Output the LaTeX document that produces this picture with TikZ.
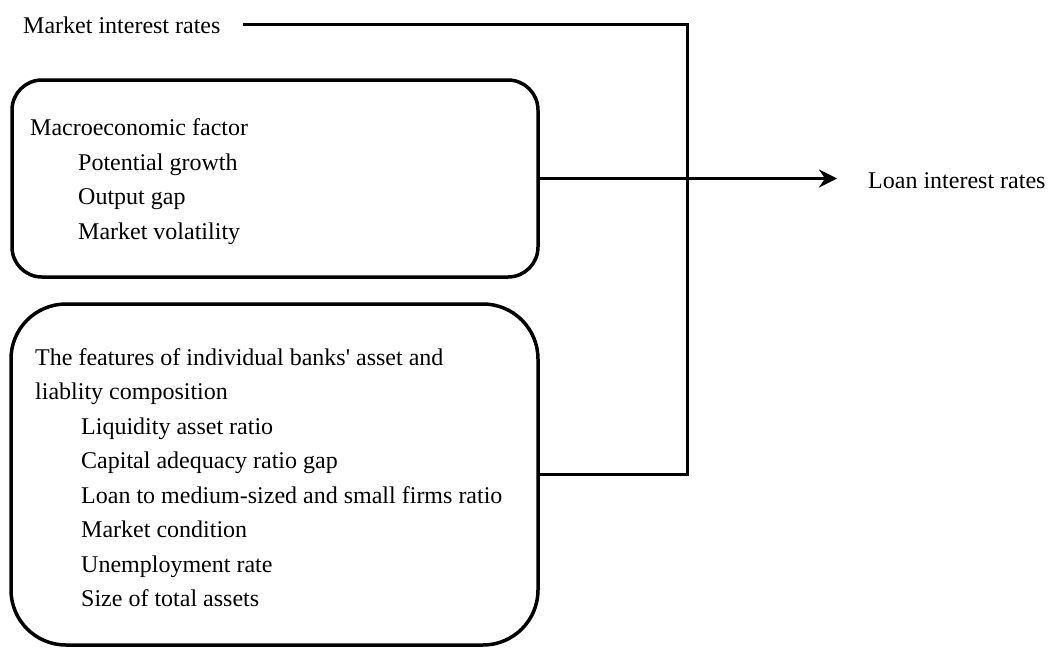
\documentclass[tikz,border=0pt]{standalone}
\usepackage{fontspec}
\setmainfont{Liberation Serif}
\usetikzlibrary{arrows.meta}
\begin{document}
\begin{tikzpicture}[x=1pt, y=-1pt,
    font=\fontsize{24}{34.5}\selectfont,
    box/.style={draw, line width=3.5pt, inner sep=0pt, outer sep=0pt},
    txt/.style={inner sep=0pt, align=left},
    link/.style={line width=3pt}]
  \useasboundingbox (0,0) rectangle (1050,648);
  % the two factor boxes
  \node[box, rounded corners=30pt, minimum width=526pt, minimum height=197pt] (macro) at (275,178.5) {};
  \node[box, rounded corners=55pt, minimum width=527pt, minimum height=341pt] (feat) at (274.5,474.5) {};
  % box texts
  \node[txt, anchor=west] (macrotxt) at ([xshift=18pt,yshift=-3pt]macro.west)
    {Macroeconomic factor\\\hspace*{48pt}Potential growth\\\hspace*{48pt}Output gap\\\hspace*{48pt}Market volatility};
  \node[txt, anchor=west] (feattxt) at ([xshift=24pt,yshift=-3pt]feat.west)
    {The features of individual banks\textquotesingle{} asset and\\liablity composition\\\hspace*{46pt}Liquidity asset ratio\\\hspace*{46pt}Capital adequacy ratio gap\\\hspace*{46pt}Loan to medium-sized and small firms ratio\\\hspace*{46pt}Market condition\\\hspace*{46pt}Unemployment rate\\\hspace*{46pt}Size of total assets};
  % inputs and output
  \node[txt, anchor=base west] (mir) at (23,33) {Market interest rates};
  \node[txt, anchor=base west] (loan) at (868,188) {Loan interest rates};
  \coordinate (junc) at (687,178.5);
  \draw[link, shorten <=22pt] (mir.east) -| (junc) |- (feat.east);
  \draw[link, -{Stealth[length=18pt,width=18pt,inset=6pt]}, shorten >=31pt] (macro.east) -- (macro.east -| loan.west);
\end{tikzpicture}
\end{document}
